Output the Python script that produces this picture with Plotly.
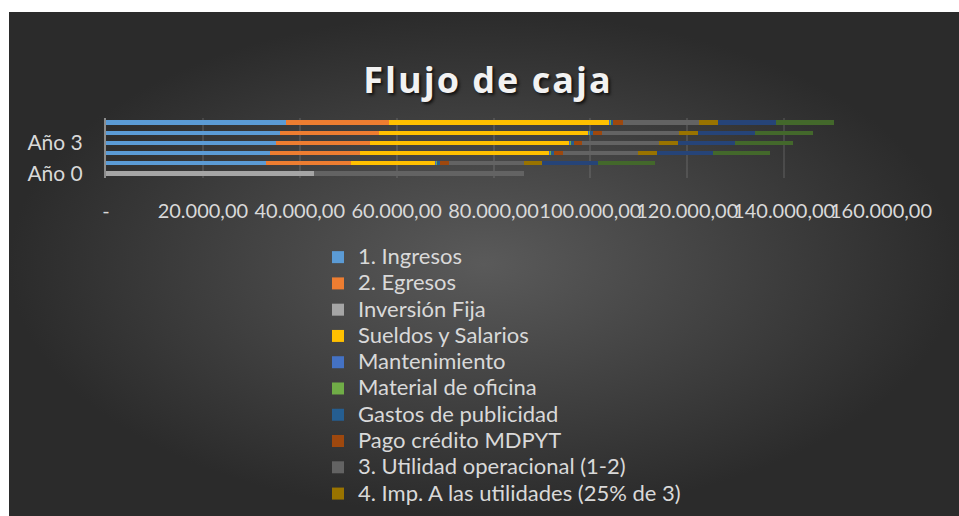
import plotly.graph_objects as go

# ---------------- data ----------------
years = ["Año 0", "Año 1", "Año 2", "Año 3", "Año 4", "Año 5"]
ingresos = [0, 33040, 33870, 35110, 35930, 37170]
egresos = [0, 17550, 18590, 19410, 20440, 21270]
inversion_fija = [42900, 0, 0, 0, 0, 0]
sueldos_salarios = [0, 17490, 39030, 41160, 43160, 45490]
mantenimiento = [0, 210, 250, 270, 350, 150]
material_oficina = [0, 200, 100, 100, 100, 270]
gastos_publicidad = [0, 410, 700, 560, 600, 410]
pago_credito = [0, 2000, 1860, 1730, 1860, 1940]
utilidad_operacional = [43300, 15340, 15490, 15760, 15760, 15760]
impuesto_utilidades = [0, 3840, 3870, 3940, 3920, 3920]
utilidad_neta = [0, 11560, 11620, 11820, 11770, 11980]
flujo_neto = [0, 11770, 11770, 11980, 11980, 11980]

x_tick_vals = [0, 20000, 40000, 60000, 80000, 100000, 120000, 140000, 160000]
x_tick_text = ["-", "20.000,00", "40.000,00", "60.000,00", "80.000,00",
               "100.000,00", "120.000,00", "140.000,00", "160.000,00"]
y_tick_vals = ["Año 0", "Año 3"]

series = [
    ("1. Ingresos", ingresos, "#5B9BD5", True),
    ("2. Egresos", egresos, "#ED7D31", True),
    ("Inversión Fija", inversion_fija, "#A5A5A5", True),
    ("Sueldos y Salarios", sueldos_salarios, "#FFC000", True),
    ("Mantenimiento", mantenimiento, "#4472C4", True),
    ("Material de oficina", material_oficina, "#70AD47", True),
    ("Gastos de publicidad", gastos_publicidad, "#255E91", True),
    ("Pago crédito MDPYT", pago_credito, "#9E480E", True),
    ("3. Utilidad operacional (1-2)", utilidad_operacional, "#636363", True),
    ("4. Imp. A las utilidades (25% de 3)", impuesto_utilidades, "#997300", True),
    ("5. Utilidad neta (3-4)", utilidad_neta, "#264478", False),
    ("6. Flujo neto", flujo_neto, "#43682B", False),
]

# ---------------- figure ----------------
W, H = 959, 516

def fx(p):
    return p / W

def fy(p):
    return 1 - p / H

fig = go.Figure()

# chart-area background with radial gradient
fig.add_trace(go.Scatter(
    x=[0, 1, 1, 0, 0], y=[0, 0, 1, 1, 0],
    fill="toself", mode="none",
    fillgradient=dict(type="radial", colorscale=[[0, "#5a5a5a"], [1, "#2b2b2b"]]),
    hoverinfo="skip", showlegend=False, xaxis="x", yaxis="y",
))

for name, vals, color, show in series:
    fig.add_trace(go.Bar(
        y=years, x=vals, name=name, orientation="h",
        marker=dict(color=color, line=dict(width=0)),
        xaxis="x2", yaxis="y2", showlegend=show,
        hovertemplate=name + ": %{x}<extra></extra>",
    ))

# legend labels rendered a bit larger than the row spacing font
for tr in fig.data[1:]:
    tr.name = '<span style="font-size:22px">' + tr.name + "</span>"

txt = "#d9d9d9"
fig.update_layout(
    width=W, height=H,
    margin=dict(l=0, r=0, t=0, b=0, autoexpand=False),
    paper_bgcolor="white",
    plot_bgcolor="rgba(0,0,0,0)",
    barmode="stack",
    bargap=0.55,
    shapes=[dict(type="rect", xref="paper", yref="paper",
                 x0=fx(9), x1=1, y0=0, y1=fy(12),
                 fillcolor="#2b2b2b", line=dict(width=0), layer="below")],
    title=dict(
        text='<span style="letter-spacing:2px"><b>Flujo de caja</b></span>',
        x=fx(488), xanchor="center", y=fy(80), yanchor="middle",
        font=dict(family="Open Sans", size=36, color="#f2f2f2",
                  shadow="2px 2px 3px rgba(0,0,0,0.7)"),
    ),
    xaxis=dict(domain=[fx(9), 1], range=[0, 1], visible=False,
               fixedrange=True, automargin=False),
    yaxis=dict(domain=[0, fy(12)], range=[0, 1], visible=False,
               fixedrange=True, automargin=False),
    xaxis2=dict(
        domain=[fx(106), fx(881)], anchor="y2", range=[0, 160000],
        automargin=False,
        tickmode="array", tickvals=x_tick_vals, ticktext=x_tick_text,
        tickangle=0,
        showgrid=True, gridcolor="rgba(255,255,255,0.10)", gridwidth=2,
        zeroline=False, showline=False, ticks="",
        tickfont=dict(family="Lato", size=20, color=txt),
        ticklabelstandoff=19,
    ),
    yaxis2=dict(
        domain=[fy(178.4), fy(117.6)], anchor="x2", type="category",
        automargin=False,
        categoryorder="array", categoryarray=years, range=[-0.5, 5.5],
        tickmode="array", tickvals=y_tick_vals,
        showgrid=False, showline=True, linecolor="#8c8c8c", linewidth=2,
        ticks="", tickfont=dict(family="Lato", size=21, color=txt),
        ticklabelstandoff=17,
    ),
    legend=dict(
        x=fx(318), xanchor="left", y=fy(239), yanchor="top",
        bgcolor="rgba(0,0,0,0)", traceorder="normal",
        font=dict(family="Lato", size=17.9, color=txt),
    ),
)

fig.write_html(
    "out.html", config={"displayModeBar": False},
    post_script=("document.body.style.margin='0';"
                 "document.body.style.overflow='hidden';"
                 "document.documentElement.style.overflow='hidden';"),
)
